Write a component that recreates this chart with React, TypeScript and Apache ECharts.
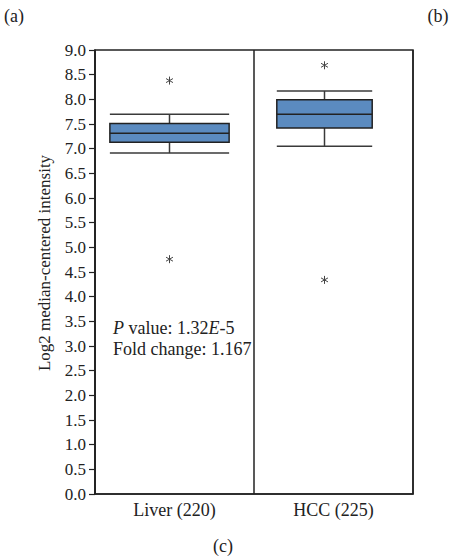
import React, { useEffect, useRef } from "react";
import * as echarts from "echarts";

const categories = ["Liver (220)", "HCC (225)"];
const whiskerLow = [6.91, 7.05];
const quartile1 = [7.13, 7.42];
const medians = [7.31, 7.7];
const quartile3 = [7.51, 7.99];
const whiskerHigh = [7.7, 8.17];
const outlierCategory = [0, 0, 1, 1];
const outlierValues = [8.38, 4.76, 8.69, 4.34];
const yMin = 0;
const yMax = 9;
const yInterval = 0.5;
const yAxisTitle = "Log2 median-centered intensity";
const statLine1 = "{i|P} value: 1.32{i|E}-5";
const statLine2 = "Fold change: 1.167";

const FONT = "Liberation Serif";
const BOX_RATIO = [0.75, 0.6];
const BOX_SHIFT = [-5, -9];
const BOX_FILL = "#5b8bc0";

export default function App() {
  const ref = useRef<HTMLDivElement>(null);
  useEffect(() => {
    if (!ref.current) return;
    const chart = echarts.init(ref.current, null, { renderer: "svg" });
    const boxData = categories.map((_, i) => [
      i,
      whiskerLow[i],
      quartile1[i],
      medians[i],
      quartile3[i],
      whiskerHigh[i],
    ]);
    const outData = outlierValues.map((v, k) => [outlierCategory[k], v]);
    const option: any = {
      animation: false,
      grid: {
        left: 95,
        right: 36,
        top: 50,
        bottom: 66,
        show: true,
        borderColor: "#222",
        borderWidth: 1.5,
        backgroundColor: "transparent",
      },
      xAxis: {
        type: "category",
        data: categories,
        boundaryGap: true,
        axisLine: { show: true, lineStyle: { color: "#222", width: 1.5 } },
        axisTick: { show: false },
        splitLine: { show: true, lineStyle: { color: "#222", width: 1.5 } },
        axisLabel: {
          color: "#222",
          fontFamily: FONT,
          fontSize: 18,
          margin: 7,
        },
      },
      yAxis: {
        type: "value",
        min: yMin,
        max: yMax,
        interval: yInterval,
        axisLine: { show: true, lineStyle: { color: "#222", width: 1.5 } },
        axisTick: { show: true, length: 6, lineStyle: { color: "#222", width: 1.2 } },
        splitLine: { show: false },
        axisLabel: {
          color: "#222",
          fontFamily: FONT,
          fontSize: 17,
          margin: 9,
          formatter: (v: number) => v.toFixed(1),
        },
      },
      series: [
        {
          type: "custom",
          data: boxData,
          encode: { x: 0, y: [1, 2, 3, 4, 5] },
          renderItem: (params: any, api: any) => {
            const i = api.value(0);
            const band = api.size([1, 0])[0];
            const cx = api.coord([i, 0])[0] + BOX_SHIFT[i];
            const hw = (band * BOX_RATIO[i]) / 2;
            const yLo = api.coord([i, api.value(1)])[1];
            const yQ1 = api.coord([i, api.value(2)])[1];
            const yMed = api.coord([i, api.value(3)])[1];
            const yQ3 = api.coord([i, api.value(4)])[1];
            const yHi = api.coord([i, api.value(5)])[1];
            const wStyle = { stroke: "#3a3a3a", lineWidth: 1.5 };
            return {
              type: "group",
              children: [
                { type: "line", shape: { x1: cx, y1: yHi, x2: cx, y2: yQ3 }, style: wStyle },
                { type: "line", shape: { x1: cx, y1: yQ1, x2: cx, y2: yLo }, style: wStyle },
                { type: "line", shape: { x1: cx - hw, y1: yHi, x2: cx + hw, y2: yHi }, style: wStyle },
                { type: "line", shape: { x1: cx - hw, y1: yLo, x2: cx + hw, y2: yLo }, style: wStyle },
                {
                  type: "rect",
                  shape: { x: cx - hw, y: yQ3, width: hw * 2, height: yQ1 - yQ3 },
                  style: { fill: BOX_FILL, stroke: "#222", lineWidth: 1.5 },
                },
                {
                  type: "line",
                  shape: { x1: cx - hw, y1: yMed, x2: cx + hw, y2: yMed },
                  style: { stroke: "#222", lineWidth: 1.5 },
                },
              ],
            };
          },
        },
        {
          type: "custom",
          data: outData,
          encode: { x: 0, y: 1 },
          renderItem: (params: any, api: any) => {
            const i = api.value(0);
            const p = api.coord([i, api.value(1)]);
            const cx = p[0] + BOX_SHIFT[i];
            const cy = p[1];
            const s = { stroke: "#444", lineWidth: 1 };
            const r = 4;
            const dx = r * Math.cos(Math.PI / 6);
            const dy = r * Math.sin(Math.PI / 6);
            return {
              type: "group",
              children: [
                { type: "line", shape: { x1: cx, y1: cy - r, x2: cx, y2: cy + r }, style: s },
                { type: "line", shape: { x1: cx - dx, y1: cy - dy, x2: cx + dx, y2: cy + dy }, style: s },
                { type: "line", shape: { x1: cx - dx, y1: cy + dy, x2: cx + dx, y2: cy - dy }, style: s },
              ],
            };
          },
        },
      ],
      graphic: [
        {
          type: "text",
          x: 44,
          y: 263,
          rotation: Math.PI / 2,
          style: {
            text: yAxisTitle,
            fontFamily: FONT,
            fontSize: 17,
            fill: "#222",
            align: "center",
            verticalAlign: "middle",
          },
        },
        {
          type: "text",
          left: 113,
          top: 317,
          style: {
            text: statLine1 + "\n" + statLine2,
            fontFamily: FONT,
            fontSize: 18,
            lineHeight: 21,
            fill: "#222",
            rich: {
              i: { fontFamily: FONT, fontSize: 18, fontStyle: "italic", fill: "#222", lineHeight: 21 },
            },
          },
        },
        {
          type: "text",
          x: 14,
          y: 16,
          style: { text: "(a)", fontFamily: FONT, fontSize: 18, fill: "#222", align: "center", verticalAlign: "middle" },
        },
        {
          type: "text",
          x: 438,
          y: 16,
          style: { text: "(b)", fontFamily: FONT, fontSize: 18, fill: "#222", align: "center", verticalAlign: "middle" },
        },
        {
          type: "text",
          x: 223,
          y: 546,
          style: { text: "(c)", fontFamily: FONT, fontSize: 18, fill: "#222", align: "center", verticalAlign: "middle" },
        },
      ],
    };
    chart.setOption(option);
    return () => chart.dispose();
  }, []);
  return (
    <div
      ref={ref}
      style={{ position: "absolute", left: 0, top: 0, width: 449, height: 560, background: "#fff" }}
    />
  );
}
